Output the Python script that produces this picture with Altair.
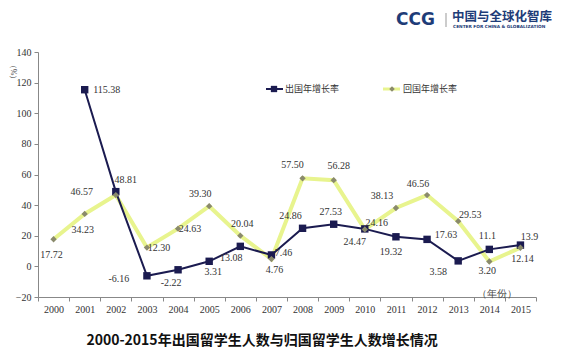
import altair as alt
import pandas as pd

years = [str(y) for y in range(2000, 2016)]
outbound = [None, 115.38, 48.81, -6.16, -2.22, 3.31, 13.08, 7.46, 24.86, 27.53,
            24.47, 19.32, 17.63, 3.58, 11.1, 13.9]
outbound_lbl = ["", "115.38", "48.81", "-6.16", "-2.22", "3.31", "13.08", "7.46", "24.86",
                "27.53", "24.47", "19.32", "17.63", "3.58", "11.1", "13.9"]
inbound = [17.72, 34.23, 46.57, 12.30, 24.63, 39.30, 20.04, 4.76, 57.50, 56.28,
           24.16, 38.13, 46.56, 29.53, 3.20, 12.14]
inbound_lbl = ["17.72", "34.23", "46.57", "12.30", "24.63", "39.30", "20.04", "4.76", "57.50",
               "56.28", "24.16", "38.13", "46.56", "29.53", "3.20", "12.14"]
series_names = ["出国年增长率", "回国年增长率"]
title_text = "2000-2015年出国留学生人数与归国留学生人数增长情况"

# label offsets (pixels) – styling only
out_dx = [0, 22, 10, -28, -7, 4, -9, 12, -12, -3, -10, -5, 19, -20, -2, 9]
out_dy = [0, 0, -12, 3, 13, 11, 12, -2, -12, -12, 13, 15, -4, 11, -13, -8]
in_dx = [-2, -2, -34, 12, 12, -9, 2, 3, -10, 5, 12, -14, -9, 12, -2, 2]
in_dy = [16, 16, -3, 0, 0, -12, -12, 11, -13, -14, -6, -12, -11, -6, 10, 11]

df_out = pd.DataFrame({"year": years, "value": outbound, "label": outbound_lbl})
df_out = df_out[df_out["value"].notna()]
df_in = pd.DataFrame({"year": years, "value": inbound, "label": inbound_lbl})

NAVY = "#1b1b50"
YEL = "#e8f48e"
DIA = "#8a8a6c"
SERIF = "Liberation Serif"
CJK = "Noto Sans CJK SC"

xenc = alt.X("year:O", sort=years,
             scale=alt.Scale(type="band", paddingInner=0, paddingOuter=0),
             axis=alt.Axis(title=None, labelAngle=0, labelFont=SERIF, labelFontSize=10,
                           labelColor="#333", domainColor="#888", tickColor="#888",
                           tickSize=4, tickBand="extent", labelPadding=3, grid=False))
yenc = alt.Y("value:Q",
             scale=alt.Scale(domain=[-20, 140], nice=False, zero=False),
             axis=alt.Axis(title=None, values=list(range(-20, 141, 20)), labelFont=SERIF,
                           labelFontSize=10, labelColor="#333", domainColor="#888",
                           tickColor="#888", tickSize=4, labelPadding=3, grid=False))

in_line = alt.Chart(df_in).mark_line(color=YEL, strokeWidth=4).encode(x=xenc, y=yenc)
out_line = alt.Chart(df_out).mark_line(color=NAVY, strokeWidth=2).encode(x=xenc, y=yenc)
out_pts = alt.Chart(df_out).mark_point(shape="square", filled=True, color=NAVY, size=55,
                                       opacity=1).encode(x=xenc, y=yenc)
in_pts = alt.Chart(df_in).mark_point(shape="diamond", filled=True, color=DIA, size=40,
                                     opacity=1).encode(x=xenc, y=yenc)

layers = [in_line, out_line, out_pts, in_pts]

for i, y in enumerate(years):
    if outbound[i] is not None:
        layers.append(
            alt.Chart(df_out).transform_filter(alt.datum.year == y)
            .mark_text(font=SERIF, fontSize=10, color="#333", dx=out_dx[i], dy=out_dy[i])
            .encode(x=xenc, y=yenc, text="label:N"))
    layers.append(
        alt.Chart(df_in).transform_filter(alt.datum.year == y)
        .mark_text(font=SERIF, fontSize=10, color="#333", dx=in_dx[i], dy=in_dy[i])
        .encode(x=xenc, y=yenc, text="label:N"))

base = alt.Chart(pd.DataFrame({"a": [0]}))

# legend
layers.append(base.mark_rule(color=NAVY, strokeWidth=2).encode(
    x=alt.value(228), x2=alt.value(245), y=alt.value(37)))
layers.append(base.mark_point(shape="square", filled=True, color=NAVY, size=40, opacity=1).encode(
    x=alt.value(236), y=alt.value(37)))
layers.append(base.mark_text(font=CJK, fontSize=9, color="#333", align="left").encode(
    x=alt.value(247), y=alt.value(37), text=alt.value(series_names[0])))
layers.append(base.mark_rule(color=YEL, strokeWidth=3).encode(
    x=alt.value(345), x2=alt.value(362), y=alt.value(37)))
layers.append(base.mark_point(shape="diamond", filled=True, color=DIA, size=30, opacity=1).encode(
    x=alt.value(354), y=alt.value(37)))
layers.append(base.mark_text(font=CJK, fontSize=9, color="#333", align="left").encode(
    x=alt.value(365), y=alt.value(37), text=alt.value(series_names[1])))

# axis unit annotations
layers.append(base.mark_text(font=SERIF, fontSize=8, color="#444", angle=90).encode(
    x=alt.value(-25), y=alt.value(20), text=alt.value("（%）")))
layers.append(base.mark_text(font=SERIF, fontSize=10, color="#444").encode(
    x=alt.value(459), y=alt.value(242), text=alt.value("（年份）")))

# bottom title
layers.append(base.mark_text(font=CJK, fontSize=14, fontWeight="bold", color="#111").encode(
    x=alt.value(224), y=alt.value(289), text=alt.value(title_text)))

# logo
LOGO = "#1e3c78"
layers.append(base.mark_text(font="DejaVu Sans", fontSize=17, fontWeight="bold", color=LOGO,
                             align="left").encode(
    x=alt.value(358), y=alt.value(-32), text=alt.value("CCG")))
layers.append(base.mark_rule(color="#999", strokeWidth=1).encode(
    x=alt.value(408), y=alt.value(-39), y2=alt.value(-25)))
layers.append(base.mark_text(font=CJK, fontSize=12.5, fontWeight="bold", color=LOGO,
                             align="left").encode(
    x=alt.value(414), y=alt.value(-35), text=alt.value("中国与全球化智库")))
layers.append(base.mark_text(font="DejaVu Sans", fontSize=4.3, fontWeight="bold", color=LOGO,
                             align="left").encode(
    x=alt.value(415), y=alt.value(-25), text=alt.value("CENTER FOR CHINA & GLOBALIZATION")))

chart = alt.layer(*layers).properties(
    width=498, height=245,
    autosize=alt.AutoSizeParams(type="none"),
    padding={"left": 38, "top": 52, "right": 30, "bottom": 60},
    background="white",
).configure_view(stroke=None)

chart.save("out.html", embed_options={"renderer": "svg", "actions": False})
